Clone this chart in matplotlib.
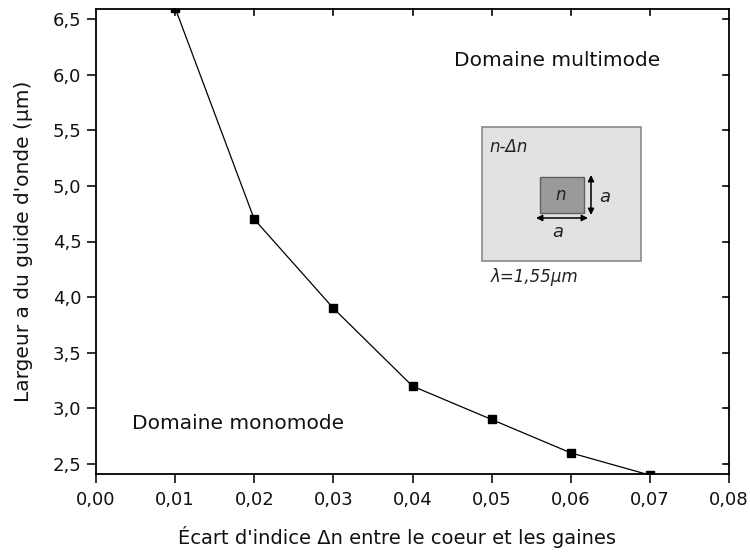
import matplotlib
matplotlib.use("Agg")
import matplotlib.pyplot as plt
from matplotlib.patches import Rectangle, FancyArrowPatch

plt.rcParams['font.family'] = ['DejaVu Sans']

delta_n = [0.01, 0.02, 0.03, 0.04, 0.05, 0.06, 0.07]
largeur = [6.60, 4.70, 3.90, 3.20, 2.90, 2.60, 2.40]

x_ticks = [0.00, 0.01, 0.02, 0.03, 0.04, 0.05, 0.06, 0.07, 0.08]
x_tick_labels = ["0,00", "0,01", "0,02", "0,03", "0,04", "0,05", "0,06", "0,07", "0,08"]
y_ticks = [2.5, 3.0, 3.5, 4.0, 4.5, 5.0, 5.5, 6.0, 6.5]
y_tick_labels = ["2,5", "3,0", "3,5", "4,0", "4,5", "5,0", "5,5", "6,0", "6,5"]

W, H = 750, 554
fig = plt.figure(figsize=(W / 100, H / 100), dpi=100)
ax = fig.add_axes([96 / W, (H - 474) / H, (729 - 96) / W, (474 - 9) / H])

ax.plot(delta_n, largeur, color='black', lw=0.9, marker='s', ms=6,
        mfc='black', mec='black')

ax.set_xlim(0.0, 0.08)
ax.set_ylim(2.41, 6.59)
ax.set_xticks(x_ticks)
ax.set_xticklabels(x_tick_labels)
ax.set_yticks(y_ticks)
ax.set_yticklabels(y_tick_labels)
ax.tick_params(axis='both', which='major', labelsize=13, length=6.5, width=1.2,
               direction='out', colors='#111111')
ax.tick_params(axis='x', pad=6)
ax.tick_params(axis='y', pad=4)
for s in ax.spines.values():
    s.set_linewidth(1.3)

# mirrored ticks pointing inward on top and right
for x in x_ticks[1:-1]:
    ax.plot([x, x], [6.59, 6.59 - 6 / 111.25], color='black', lw=1.2, clip_on=False)
for y in y_ticks:
    ax.plot([0.08, 0.08 - 6 / 7930], [y, y], color='black', lw=1.2, clip_on=False)

ax.set_xlabel("Écart d'indice \u0394n entre le coeur et les gaines", fontsize=14, color='#111111')
ax.xaxis.set_label_coords((397 - 96) / 633, -(537 - 474) / 465, transform=ax.transAxes)
ax.xaxis.label.set_va('center')
ax.set_ylabel("Largeur a du guide d'onde (µm)", fontsize=14.5, color='#111111')
ax.yaxis.set_label_coords(-(96 - 24) / 633, 0.5, transform=ax.transAxes)
ax.yaxis.label.set_va('center')

ax.text(0.0583, 6.13, "Domaine multimode", fontsize=14.5, ha='center', va='center', color='#111111')
ax.text(0.018, 2.86, "Domaine monomode", fontsize=14.5, ha='center', va='center', color='#111111')

# inset schematic in pixel coordinates
ov = fig.add_axes([0, 0, 1, 1], facecolor='none')
ov.set_xlim(0, W)
ov.set_ylim(H, 0)
ov.axis('off')
ov.add_patch(Rectangle((482, 127), 159, 134, facecolor='#e2e2e2', edgecolor='#8a8a8a', lw=1.2))
ov.add_patch(Rectangle((540, 177), 44, 36, facecolor='#9a9a9a', edgecolor='#606060', lw=1.0))
ov.add_patch(FancyArrowPatch((591, 175), (591, 215), arrowstyle='<|-|>', mutation_scale=9,
                             color='black', lw=1.1, shrinkA=0, shrinkB=0))
ov.add_patch(FancyArrowPatch((536, 218), (588, 218), arrowstyle='<|-|>', mutation_scale=9,
                             color='black', lw=1.1, shrinkA=0, shrinkB=0))
ov.text(561, 195, "n", fontsize=12, style='italic', ha='center', va='center', color='#222222')
ov.text(605, 197, "a", fontsize=13, style='italic', ha='center', va='center', color='#222222')
ov.text(558, 232, "a", fontsize=13, style='italic', ha='center', va='center', color='#222222')
ov.text(489, 147, "n-\u0394n", fontsize=12, style='italic', ha='left', va='center', color='#222222')
ov.text(491, 277, "\u03bb=1,55µm", fontsize=12, style='italic', ha='left', va='center', color='#222222')

fig.savefig("out.png", dpi=100)
